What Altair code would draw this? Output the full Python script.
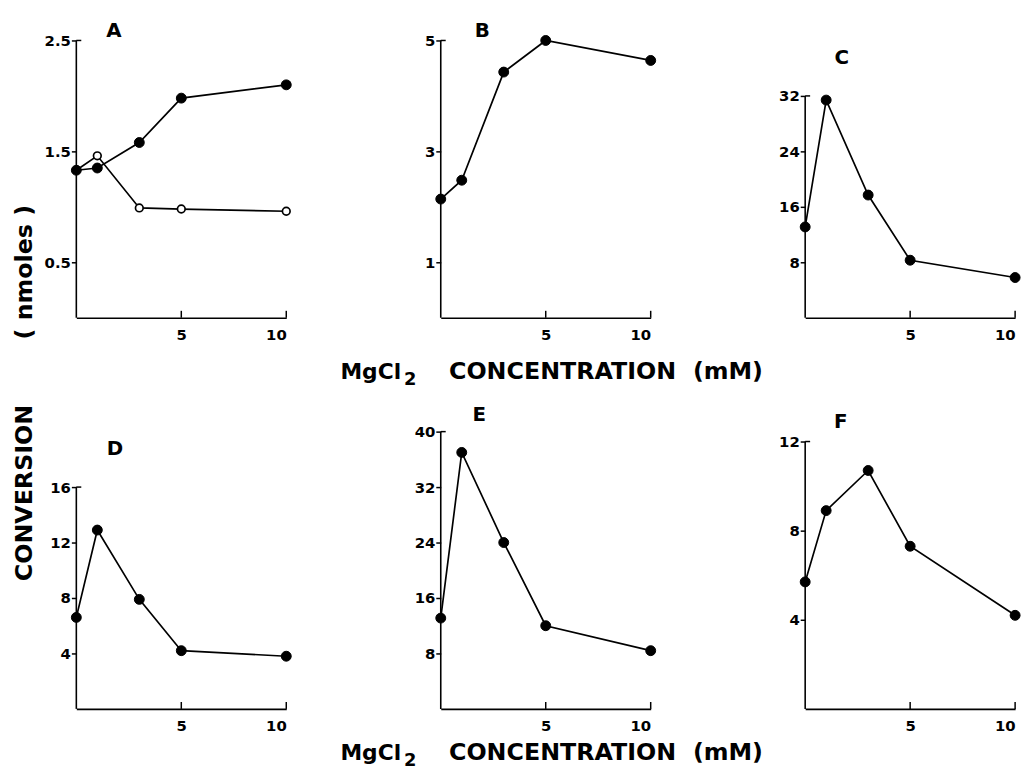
import altair as alt
import pandas as pd

# ---- data ----
conc = [0, 1, 3, 5, 10]                      # MgCl2 concentration (mM)
a_filled = [1.33, 1.35, 1.58, 1.98, 2.10]
a_open = [1.33, 1.46, 0.99, 0.98, 0.96]
b_vals = [2.14, 2.48, 4.43, 5.00, 4.64]
c_vals = [13.1, 31.4, 17.7, 8.3, 5.8]
d_vals = [6.6, 12.9, 7.9, 4.2, 3.8]
e_vals = [13.1, 37.0, 24.0, 12.0, 8.4]
f_vals = [5.7, 8.9, 10.7, 7.3, 4.2]

x_ticks = [5, 10]
a_ticks = [0.5, 1.5, 2.5]
b_ticks = [1, 3, 5]
c_ticks = [8, 16, 24, 32]
d_ticks = [4, 8, 12, 16]
e_ticks = [8, 16, 24, 32, 40]
f_ticks = [4, 8, 12]

FONT = "DejaVu Sans"
H = 280
W = 212


def panel(letter, filled, opened, ticks, axis_top, dom_top, fmt, ldx, ldy, extra=None):
    rows = [{"x": c, "y": v, "kind": "filled"} for c, v in zip(conc, filled)]
    if opened is not None:
        rows += [{"x": c, "y": v, "kind": "open"} for c, v in zip(conc, opened)]
    df = pd.DataFrame(rows)
    xs = alt.Scale(domain=[0, 10], nice=False, zero=False)
    ys = alt.Scale(domain=[0, dom_top], nice=False, zero=False)
    xenc = alt.X("x:Q", scale=xs, axis=alt.Axis(
        values=x_ticks, title=None, grid=False, ticks=False, labelPadding=10,
        labelFont=FONT, labelFontSize=15, labelFontWeight="bold", labelColor="black",
        domainColor="black", domainWidth=1.6, format="d"))
    yenc = alt.Y("y:Q", scale=ys, axis=alt.Axis(
        values=ticks, title=None, grid=False, domain=False, tickSize=5, tickWidth=1.5,
        tickColor="black", labelPadding=1, labelFont=FONT, labelFontSize=15,
        labelFontWeight="bold", labelColor="black", format=fmt))

    line = alt.Chart(df).mark_line(color="black", strokeWidth=1.7).encode(
        x=xenc, y=yenc, detail="kind:N")
    layers = [line]
    fdf = df[df.kind == "filled"]
    layers.append(alt.Chart(fdf).mark_point(
        shape="circle", filled=True, fill="black", stroke="black", strokeWidth=1,
        size=100, opacity=1).encode(x=xenc, y=yenc))
    if opened is not None:
        odf = df[df.kind == "open"].iloc[1:]
        layers.append(alt.Chart(odf).mark_point(
            shape="circle", filled=True, fill="white", stroke="black", strokeWidth=1.7,
            size=60, opacity=1).encode(x=xenc, y=yenc))

    ax = pd.DataFrame({"y": [0], "y2": [axis_top]})
    layers.append(alt.Chart(ax).mark_rule(color="black", strokeWidth=1.6).encode(
        x=alt.value(0), y=yenc, y2="y2:Q"))
    layers.append(alt.Chart(pd.DataFrame({"y": [axis_top]})).mark_rule(
        color="black", strokeWidth=1.5).encode(x=alt.value(0), x2=alt.value(5), y=yenc))
    tk = pd.DataFrame({"x": x_ticks})
    layers.append(alt.Chart(tk).mark_rule(color="black", strokeWidth=1.5).encode(
        x=xenc, y=alt.value(H), y2=alt.value(H - 7)))
    layers.append(alt.Chart(pd.DataFrame({"t": [letter]})).mark_text(
        font=FONT, fontSize=20, fontWeight="bold", color="black", align="center",
        baseline="middle").encode(text="t:N", x=alt.value(ldx), y=alt.value(ldy)))
    if extra:
        layers += extra
    return alt.layer(*layers).properties(width=W, height=H)


def txt(s, x, y, size=24, align="left", angle=0):
    return alt.Chart(pd.DataFrame({"t": [s]})).mark_text(
        font=FONT, fontSize=size, fontWeight="bold", color="black", align=align,
        baseline="middle", angle=angle).encode(text="t:N", x=alt.value(x), y=alt.value(y))


def xtitle(ty):
    return [
        txt("MgCl", -40, ty, size=22, align="right"),
        txt("2", -37, ty + 7.5, size=18),
        txt("CONCENTRATION", 123, ty, align="center"),
        txt("(mM)", 290, ty, align="center"),
    ]


ytitle = [
    txt("CONVERSION", -52, 457, angle=270, align="center"),
    txt("( nmoles )", -52, 234, angle=270, align="center"),
]

pA = panel("A", a_filled, a_open, a_ticks, 2.5, 2.5, ".1f", 38, -10, extra=ytitle)
pB = panel("B", b_vals, None, b_ticks, 5, 5, "d", 42, -9, extra=xtitle(335))
pC = panel("C", c_vals, None, c_ticks, 32, 40, "d", 37, 18)
pD = panel("D", d_vals, None, d_ticks, 16, 20, "d", 39, 18)
pE = panel("E", e_vals, None, e_ticks, 40, 40, "d", 39, -17, extra=xtitle(325))
pF = panel("F", f_vals, None, f_ticks, 12, 280 / 22.5, "d", 36, -10)

chart = alt.concat(
    pA, pB, pC, pD, pE, pF, columns=3,
    spacing={"row": 115, "column": 156}, bounds="flush",
).configure_view(stroke=None).properties(
    background="white", padding={"left": 5, "top": 9, "right": 5, "bottom": 5})

chart.save("out.html", embed_options={"renderer": "svg", "actions": False})
